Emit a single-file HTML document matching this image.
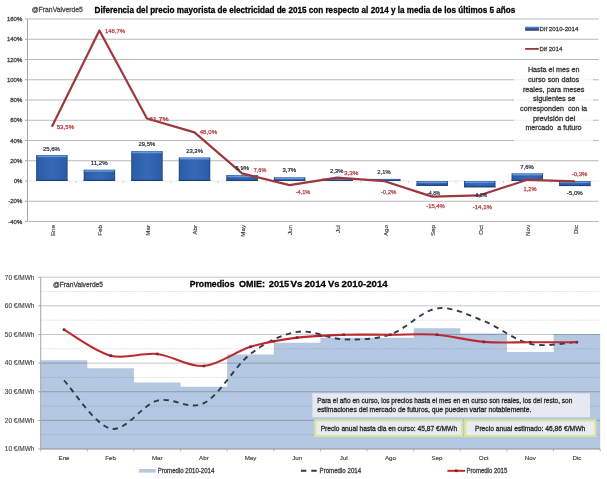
<!DOCTYPE html>
<html><head><meta charset="utf-8"><style>
html,body{margin:0;padding:0;background:#fff;}
svg{display:block;font-family:"Liberation Sans", sans-serif;}
</style></head><body>
<svg width="607" height="479" viewBox="0 0 607 479">
<rect width="607" height="479" fill="#ffffff"/>
<defs>
<linearGradient id="barg" x1="0" y1="0" x2="1" y2="0"><stop offset="0" stop-color="#1f4884"/><stop offset="0.06" stop-color="#2c5ea8"/><stop offset="0.5" stop-color="#3569b6"/><stop offset="0.94" stop-color="#2c5ea8"/><stop offset="1" stop-color="#1f4884"/></linearGradient>
</defs>
<line x1="28.1" y1="221.50" x2="598.6" y2="221.50" stroke="#b9b9b9" stroke-width="1"/>
<line x1="25" y1="221.50" x2="27.5" y2="221.50" stroke="#a6a6a6" stroke-width="1"/>
<text x="22.30" y="223.70" font-size="6.0" fill="#404040" text-anchor="end" stroke="#404040" stroke-width="0.28">-40%</text>
<line x1="28.1" y1="201.25" x2="598.6" y2="201.25" stroke="#b9b9b9" stroke-width="1"/>
<line x1="25" y1="201.25" x2="27.5" y2="201.25" stroke="#a6a6a6" stroke-width="1"/>
<text x="22.30" y="203.45" font-size="6.0" fill="#404040" text-anchor="end" stroke="#404040" stroke-width="0.28">-20%</text>
<line x1="28.1" y1="181.00" x2="598.6" y2="181.00" stroke="#ececec" stroke-width="1"/>
<line x1="25" y1="181.00" x2="27.5" y2="181.00" stroke="#a6a6a6" stroke-width="1"/>
<text x="22.30" y="183.20" font-size="6.0" fill="#404040" text-anchor="end" stroke="#404040" stroke-width="0.28">0%</text>
<line x1="28.1" y1="160.75" x2="598.6" y2="160.75" stroke="#b9b9b9" stroke-width="1"/>
<line x1="25" y1="160.75" x2="27.5" y2="160.75" stroke="#a6a6a6" stroke-width="1"/>
<text x="22.30" y="162.95" font-size="6.0" fill="#404040" text-anchor="end" stroke="#404040" stroke-width="0.28">20%</text>
<line x1="28.1" y1="140.50" x2="598.6" y2="140.50" stroke="#b9b9b9" stroke-width="1"/>
<line x1="25" y1="140.50" x2="27.5" y2="140.50" stroke="#a6a6a6" stroke-width="1"/>
<text x="22.30" y="142.70" font-size="6.0" fill="#404040" text-anchor="end" stroke="#404040" stroke-width="0.28">40%</text>
<line x1="28.1" y1="120.25" x2="598.6" y2="120.25" stroke="#b9b9b9" stroke-width="1"/>
<line x1="25" y1="120.25" x2="27.5" y2="120.25" stroke="#a6a6a6" stroke-width="1"/>
<text x="22.30" y="122.45" font-size="6.0" fill="#404040" text-anchor="end" stroke="#404040" stroke-width="0.28">60%</text>
<line x1="28.1" y1="100.00" x2="598.6" y2="100.00" stroke="#b9b9b9" stroke-width="1"/>
<line x1="25" y1="100.00" x2="27.5" y2="100.00" stroke="#a6a6a6" stroke-width="1"/>
<text x="22.30" y="102.20" font-size="6.0" fill="#404040" text-anchor="end" stroke="#404040" stroke-width="0.28">80%</text>
<line x1="28.1" y1="79.75" x2="598.6" y2="79.75" stroke="#b9b9b9" stroke-width="1"/>
<line x1="25" y1="79.75" x2="27.5" y2="79.75" stroke="#a6a6a6" stroke-width="1"/>
<text x="22.30" y="81.95" font-size="6.0" fill="#404040" text-anchor="end" stroke="#404040" stroke-width="0.28">100%</text>
<line x1="28.1" y1="59.50" x2="598.6" y2="59.50" stroke="#b9b9b9" stroke-width="1"/>
<line x1="25" y1="59.50" x2="27.5" y2="59.50" stroke="#a6a6a6" stroke-width="1"/>
<text x="22.30" y="61.70" font-size="6.0" fill="#404040" text-anchor="end" stroke="#404040" stroke-width="0.28">120%</text>
<line x1="28.1" y1="39.25" x2="598.6" y2="39.25" stroke="#b9b9b9" stroke-width="1"/>
<line x1="25" y1="39.25" x2="27.5" y2="39.25" stroke="#a6a6a6" stroke-width="1"/>
<text x="22.30" y="41.45" font-size="6.0" fill="#404040" text-anchor="end" stroke="#404040" stroke-width="0.28">140%</text>
<line x1="28.1" y1="19.00" x2="598.6" y2="19.00" stroke="#b9b9b9" stroke-width="1"/>
<line x1="25" y1="19.00" x2="27.5" y2="19.00" stroke="#a6a6a6" stroke-width="1"/>
<text x="22.30" y="21.20" font-size="6.0" fill="#404040" text-anchor="end" stroke="#404040" stroke-width="0.28">160%</text>
<line x1="27.5" y1="19.00" x2="27.5" y2="221.50" stroke="#a6a6a6" stroke-width="1"/>
<line x1="75.64" y1="181.0" x2="75.64" y2="183.0" stroke="#c8c8c8" stroke-width="0.8"/>
<line x1="123.18" y1="181.0" x2="123.18" y2="183.0" stroke="#c8c8c8" stroke-width="0.8"/>
<line x1="170.72" y1="181.0" x2="170.72" y2="183.0" stroke="#c8c8c8" stroke-width="0.8"/>
<line x1="218.27" y1="181.0" x2="218.27" y2="183.0" stroke="#c8c8c8" stroke-width="0.8"/>
<line x1="265.81" y1="181.0" x2="265.81" y2="183.0" stroke="#c8c8c8" stroke-width="0.8"/>
<line x1="313.35" y1="181.0" x2="313.35" y2="183.0" stroke="#c8c8c8" stroke-width="0.8"/>
<line x1="360.89" y1="181.0" x2="360.89" y2="183.0" stroke="#c8c8c8" stroke-width="0.8"/>
<line x1="408.43" y1="181.0" x2="408.43" y2="183.0" stroke="#c8c8c8" stroke-width="0.8"/>
<line x1="455.98" y1="181.0" x2="455.98" y2="183.0" stroke="#c8c8c8" stroke-width="0.8"/>
<line x1="503.52" y1="181.0" x2="503.52" y2="183.0" stroke="#c8c8c8" stroke-width="0.8"/>
<line x1="551.06" y1="181.0" x2="551.06" y2="183.0" stroke="#c8c8c8" stroke-width="0.8"/>
<rect x="514" y="62" width="79" height="81" fill="#ffffff" fill-opacity="0.8"/>
<rect x="36.12" y="155.08" width="31.5" height="25.92" fill="url(#barg)"/>
<rect x="37.12" y="155.68" width="29.5" height="1.5" fill="#6c9ddf" fill-opacity="0.9"/>
<rect x="36.12" y="179.70" width="31.5" height="1.3" fill="#1f4580"/>
<rect x="83.66" y="169.66" width="31.5" height="11.34" fill="url(#barg)"/>
<rect x="84.66" y="170.26" width="29.5" height="1.5" fill="#6c9ddf" fill-opacity="0.9"/>
<rect x="83.66" y="179.70" width="31.5" height="1.3" fill="#1f4580"/>
<rect x="131.20" y="151.13" width="31.5" height="29.87" fill="url(#barg)"/>
<rect x="132.20" y="151.73" width="29.5" height="1.5" fill="#6c9ddf" fill-opacity="0.9"/>
<rect x="131.20" y="179.70" width="31.5" height="1.3" fill="#1f4580"/>
<rect x="178.75" y="157.41" width="31.5" height="23.59" fill="url(#barg)"/>
<rect x="179.75" y="158.01" width="29.5" height="1.5" fill="#6c9ddf" fill-opacity="0.9"/>
<rect x="178.75" y="179.70" width="31.5" height="1.3" fill="#1f4580"/>
<rect x="226.29" y="175.03" width="31.5" height="5.97" fill="url(#barg)"/>
<rect x="227.29" y="175.63" width="29.5" height="1.5" fill="#6c9ddf" fill-opacity="0.9"/>
<rect x="226.29" y="179.70" width="31.5" height="1.3" fill="#1f4580"/>
<rect x="273.83" y="177.25" width="31.5" height="3.75" fill="url(#barg)"/>
<rect x="274.83" y="177.85" width="29.5" height="1.5" fill="#6c9ddf" fill-opacity="0.9"/>
<rect x="273.83" y="179.70" width="31.5" height="1.3" fill="#1f4580"/>
<rect x="321.37" y="178.67" width="31.5" height="2.33" fill="url(#barg)"/>
<rect x="322.37" y="179.27" width="29.5" height="1.5" fill="#6c9ddf" fill-opacity="0.9"/>
<rect x="321.37" y="179.70" width="31.5" height="1.3" fill="#1f4580"/>
<rect x="368.91" y="178.87" width="31.5" height="2.13" fill="url(#barg)"/>
<rect x="369.91" y="179.47" width="29.5" height="1.5" fill="#6c9ddf" fill-opacity="0.9"/>
<rect x="368.91" y="179.70" width="31.5" height="1.3" fill="#1f4580"/>
<rect x="416.45" y="181.00" width="31.5" height="4.86" fill="url(#barg)"/>
<rect x="417.45" y="181.60" width="29.5" height="1.5" fill="#6c9ddf" fill-opacity="0.9"/>
<rect x="416.45" y="184.56" width="31.5" height="1.3" fill="#1f4580"/>
<rect x="464.00" y="181.00" width="31.5" height="6.28" fill="url(#barg)"/>
<rect x="465.00" y="181.60" width="29.5" height="1.5" fill="#6c9ddf" fill-opacity="0.9"/>
<rect x="464.00" y="185.98" width="31.5" height="1.3" fill="#1f4580"/>
<rect x="511.54" y="173.31" width="31.5" height="7.69" fill="url(#barg)"/>
<rect x="512.54" y="173.91" width="29.5" height="1.5" fill="#6c9ddf" fill-opacity="0.9"/>
<rect x="511.54" y="179.70" width="31.5" height="1.3" fill="#1f4580"/>
<rect x="559.08" y="181.00" width="31.5" height="5.06" fill="url(#barg)"/>
<rect x="560.08" y="181.60" width="29.5" height="1.5" fill="#6c9ddf" fill-opacity="0.9"/>
<rect x="559.08" y="184.76" width="31.5" height="1.3" fill="#1f4580"/>
<polyline points="51.87,126.83 99.41,30.44 146.95,118.53 194.50,132.40 242.04,173.31 289.58,185.15 337.12,177.66 384.66,181.20 432.20,196.59 479.75,195.28 527.29,179.78 574.83,181.30" fill="none" stroke="#9c373c" stroke-width="2.2" stroke-linejoin="round"/>
<text x="42.90" y="150.55" font-size="5.9" fill="#1b2638" text-anchor="start" textLength="17.0" lengthAdjust="spacingAndGlyphs" stroke="#1b2638" stroke-width="0.2">25,6%</text>
<text x="90.70" y="165.25" font-size="5.9" fill="#1b2638" text-anchor="start" textLength="16.9" lengthAdjust="spacingAndGlyphs" stroke="#1b2638" stroke-width="0.2">11,2%</text>
<text x="138.60" y="146.45" font-size="5.9" fill="#1b2638" text-anchor="start" textLength="16.6" lengthAdjust="spacingAndGlyphs" stroke="#1b2638" stroke-width="0.2">29,5%</text>
<text x="186.20" y="152.85" font-size="5.9" fill="#1b2638" text-anchor="start" textLength="16.7" lengthAdjust="spacingAndGlyphs" stroke="#1b2638" stroke-width="0.2">23,3%</text>
<text x="235.40" y="169.65" font-size="5.9" fill="#1b2638" text-anchor="start" textLength="13.7" lengthAdjust="spacingAndGlyphs" stroke="#1b2638" stroke-width="0.2">5,9%</text>
<text x="282.40" y="172.45" font-size="5.9" fill="#1b2638" text-anchor="start" textLength="13.9" lengthAdjust="spacingAndGlyphs" stroke="#1b2638" stroke-width="0.2">3,7%</text>
<text x="330.10" y="173.05" font-size="5.9" fill="#1b2638" text-anchor="start" textLength="13.2" lengthAdjust="spacingAndGlyphs" stroke="#1b2638" stroke-width="0.2">2,3%</text>
<text x="377.30" y="174.05" font-size="5.9" fill="#1b2638" text-anchor="start" textLength="13.3" lengthAdjust="spacingAndGlyphs" stroke="#1b2638" stroke-width="0.2">2,1%</text>
<text x="427.50" y="195.05" font-size="5.9" fill="#1b2638" text-anchor="start" textLength="12.6" lengthAdjust="spacingAndGlyphs" stroke="#1b2638" stroke-width="0.2">-4,8%</text>
<text x="474.10" y="196.95" font-size="5.9" fill="#1b2638" text-anchor="start" textLength="13.0" lengthAdjust="spacingAndGlyphs" stroke="#1b2638" stroke-width="0.2">-6,2%</text>
<text x="520.30" y="168.65" font-size="5.9" fill="#1b2638" text-anchor="start" textLength="13.5" lengthAdjust="spacingAndGlyphs" stroke="#1b2638" stroke-width="0.2">7,6%</text>
<text x="566.80" y="195.05" font-size="5.9" fill="#1b2638" text-anchor="start" textLength="16.0" lengthAdjust="spacingAndGlyphs" stroke="#1b2638" stroke-width="0.2">-5,0%</text>
<text x="56.70" y="129.05" font-size="5.9" fill="#b53f42" text-anchor="start" textLength="17.4" lengthAdjust="spacingAndGlyphs" stroke="#b53f42" stroke-width="0.25">53,5%</text>
<text x="105.10" y="33.15" font-size="5.9" fill="#b53f42" text-anchor="start" textLength="19.9" lengthAdjust="spacingAndGlyphs" stroke="#b53f42" stroke-width="0.25">148,7%</text>
<text x="149.30" y="120.85" font-size="5.9" fill="#b53f42" text-anchor="start" textLength="19.4" lengthAdjust="spacingAndGlyphs" stroke="#b53f42" stroke-width="0.25">61,7%</text>
<text x="199.70" y="134.05" font-size="5.9" fill="#b53f42" text-anchor="start" textLength="17.4" lengthAdjust="spacingAndGlyphs" stroke="#b53f42" stroke-width="0.25">48,0%</text>
<text x="253.80" y="171.65" font-size="5.9" fill="#b53f42" text-anchor="start" textLength="12.5" lengthAdjust="spacingAndGlyphs" stroke="#b53f42" stroke-width="0.25">7,6%</text>
<text x="295.70" y="194.25" font-size="5.9" fill="#b53f42" text-anchor="start" textLength="14.5" lengthAdjust="spacingAndGlyphs" stroke="#b53f42" stroke-width="0.25">-4,1%</text>
<text x="343.90" y="174.85" font-size="5.9" fill="#b53f42" text-anchor="start" textLength="14.4" lengthAdjust="spacingAndGlyphs" stroke="#b53f42" stroke-width="0.25">3,3%</text>
<text x="380.70" y="194.35" font-size="5.9" fill="#b53f42" text-anchor="start" textLength="15.6" lengthAdjust="spacingAndGlyphs" stroke="#b53f42" stroke-width="0.25">-0,2%</text>
<text x="426.20" y="208.15" font-size="5.9" fill="#b53f42" text-anchor="start" textLength="18.5" lengthAdjust="spacingAndGlyphs" stroke="#b53f42" stroke-width="0.25">-15,4%</text>
<text x="472.70" y="208.75" font-size="5.9" fill="#b53f42" text-anchor="start" textLength="19.3" lengthAdjust="spacingAndGlyphs" stroke="#b53f42" stroke-width="0.25">-14,1%</text>
<text x="523.60" y="191.45" font-size="5.9" fill="#b53f42" text-anchor="start" textLength="13.0" lengthAdjust="spacingAndGlyphs" stroke="#b53f42" stroke-width="0.25">1,2%</text>
<text x="571.70" y="176.35" font-size="5.9" fill="#b53f42" text-anchor="start" textLength="15.8" lengthAdjust="spacingAndGlyphs" stroke="#b53f42" stroke-width="0.25">-0,3%</text>
<text transform="translate(54.77,225.0) rotate(-90)" font-size="6.2" fill="#404040" stroke="#404040" stroke-width="0.15" text-anchor="end">Ene</text>
<text transform="translate(102.31,225.0) rotate(-90)" font-size="6.2" fill="#404040" stroke="#404040" stroke-width="0.15" text-anchor="end">Feb</text>
<text transform="translate(149.85,225.0) rotate(-90)" font-size="6.2" fill="#404040" stroke="#404040" stroke-width="0.15" text-anchor="end">Mar</text>
<text transform="translate(197.40,225.0) rotate(-90)" font-size="6.2" fill="#404040" stroke="#404040" stroke-width="0.15" text-anchor="end">Abr</text>
<text transform="translate(244.94,225.0) rotate(-90)" font-size="6.2" fill="#404040" stroke="#404040" stroke-width="0.15" text-anchor="end">May</text>
<text transform="translate(292.48,225.0) rotate(-90)" font-size="6.2" fill="#404040" stroke="#404040" stroke-width="0.15" text-anchor="end">Jun</text>
<text transform="translate(340.02,225.0) rotate(-90)" font-size="6.2" fill="#404040" stroke="#404040" stroke-width="0.15" text-anchor="end">Jul</text>
<text transform="translate(387.56,225.0) rotate(-90)" font-size="6.2" fill="#404040" stroke="#404040" stroke-width="0.15" text-anchor="end">Ago</text>
<text transform="translate(435.10,225.0) rotate(-90)" font-size="6.2" fill="#404040" stroke="#404040" stroke-width="0.15" text-anchor="end">Sep</text>
<text transform="translate(482.65,225.0) rotate(-90)" font-size="6.2" fill="#404040" stroke="#404040" stroke-width="0.15" text-anchor="end">Oct</text>
<text transform="translate(530.19,225.0) rotate(-90)" font-size="6.2" fill="#404040" stroke="#404040" stroke-width="0.15" text-anchor="end">Nov</text>
<text transform="translate(577.73,225.0) rotate(-90)" font-size="6.2" fill="#404040" stroke="#404040" stroke-width="0.15" text-anchor="end">Dic</text>
<text x="94.60" y="12.75" font-size="8.7" fill="#000000" text-anchor="start" font-weight="bold" textLength="420.6" lengthAdjust="spacingAndGlyphs" stroke="#000000" stroke-width="0.28">Diferencia del precio mayorista de electricidad de 2015 con respecto al 2014 y la media de los últimos 5 años</text>
<text x="31.70" y="12.20" font-size="7" fill="#4a4a4a" text-anchor="start" textLength="51.2" lengthAdjust="spacingAndGlyphs" stroke="#4a4a4a" stroke-width="0.28">@FranValverde5</text>
<linearGradient id="lgb" x1="0" y1="0" x2="0" y2="1"><stop offset="0" stop-color="#6b9ad8"/><stop offset="0.4" stop-color="#3d68aa"/><stop offset="1" stop-color="#1c2f55"/></linearGradient>
<rect x="525.1" y="26.6" width="14" height="4.1" fill="url(#lgb)"/>
<text x="539.60" y="30.70" font-size="6.0" fill="#404040" text-anchor="start" textLength="38.8" lengthAdjust="spacingAndGlyphs" stroke="#404040" stroke-width="0.28">Dif 2010-2014</text>
<line x1="525.1" y1="48.9" x2="538.8" y2="48.9" stroke="#a0373b" stroke-width="1.8"/>
<text x="539.60" y="51.00" font-size="6.0" fill="#404040" text-anchor="start" textLength="22.7" lengthAdjust="spacingAndGlyphs" stroke="#404040" stroke-width="0.28">Dif 2014</text>
<text x="527.90" y="72.30" font-size="7.1" fill="#383838" text-anchor="start" textLength="51.7" lengthAdjust="spacingAndGlyphs" stroke="#383838" stroke-width="0.3">Hasta el mes en</text>
<text x="527.90" y="81.98" font-size="7.1" fill="#383838" text-anchor="start" textLength="51.3" lengthAdjust="spacingAndGlyphs" stroke="#383838" stroke-width="0.3">curso son datos</text>
<text x="522.90" y="91.66" font-size="7.1" fill="#383838" text-anchor="start" textLength="61.6" lengthAdjust="spacingAndGlyphs" stroke="#383838" stroke-width="0.3">reales, para meses</text>
<text x="532.90" y="101.34" font-size="7.1" fill="#383838" text-anchor="start" textLength="42.5" lengthAdjust="spacingAndGlyphs" stroke="#383838" stroke-width="0.3">siguientes se</text>
<text x="520.10" y="111.02" font-size="7.1" fill="#383838" text-anchor="start" textLength="67.0" lengthAdjust="spacingAndGlyphs" stroke="#383838" stroke-width="0.3">corresponden  con la</text>
<text x="532.90" y="120.70" font-size="7.1" fill="#383838" text-anchor="start" textLength="42.5" lengthAdjust="spacingAndGlyphs" stroke="#383838" stroke-width="0.3">previsión del</text>
<text x="525.40" y="130.38" font-size="7.1" fill="#383838" text-anchor="start" textLength="56.2" lengthAdjust="spacingAndGlyphs" stroke="#383838" stroke-width="0.3">mercado  a futuro</text>
<path d="M40.70,449.00 L40.70,360.25 L87.33,360.25 L87.33,368.26 L133.95,368.26 L133.95,382.58 L180.57,382.58 L180.57,386.87 L227.20,386.87 L227.20,354.52 L273.82,354.52 L273.82,342.78 L320.45,342.78 L320.45,337.63 L367.07,337.63 L367.07,337.63 L413.70,337.63 L413.70,328.18 L460.32,328.18 L460.32,333.62 L506.95,333.62 L506.95,351.94 L553.58,351.94 L553.58,333.91 L600.20,333.91 L600.20,449.00 Z" fill="#b4c8e2"/>
<line x1="40.7" y1="449.00" x2="600.2" y2="449.00" stroke="#c6c6c6" stroke-width="1" style="mix-blend-mode:multiply"/>
<line x1="40.7" y1="420.37" x2="600.2" y2="420.37" stroke="#c6c6c6" stroke-width="1" style="mix-blend-mode:multiply"/>
<line x1="40.7" y1="391.74" x2="600.2" y2="391.74" stroke="#c6c6c6" stroke-width="1" style="mix-blend-mode:multiply"/>
<line x1="40.7" y1="363.11" x2="600.2" y2="363.11" stroke="#c6c6c6" stroke-width="1" style="mix-blend-mode:multiply"/>
<line x1="40.7" y1="334.48" x2="600.2" y2="334.48" stroke="#c6c6c6" stroke-width="1" style="mix-blend-mode:multiply"/>
<line x1="40.7" y1="305.85" x2="600.2" y2="305.85" stroke="#c6c6c6" stroke-width="1" style="mix-blend-mode:multiply"/>
<line x1="40.7" y1="277.22" x2="600.2" y2="277.22" stroke="#c6c6c6" stroke-width="1" style="mix-blend-mode:multiply"/>
<line x1="40.7" y1="434.69" x2="600.2" y2="434.69" stroke="#dadada" stroke-width="1" stroke-dasharray="1.2,1.2" style="mix-blend-mode:multiply"/>
<line x1="40.7" y1="406.06" x2="600.2" y2="406.06" stroke="#dadada" stroke-width="1" stroke-dasharray="1.2,1.2" style="mix-blend-mode:multiply"/>
<line x1="40.7" y1="377.43" x2="600.2" y2="377.43" stroke="#dadada" stroke-width="1" stroke-dasharray="1.2,1.2" style="mix-blend-mode:multiply"/>
<line x1="40.7" y1="348.80" x2="600.2" y2="348.80" stroke="#dadada" stroke-width="1" stroke-dasharray="1.2,1.2" style="mix-blend-mode:multiply"/>
<line x1="40.7" y1="320.16" x2="600.2" y2="320.16" stroke="#dadada" stroke-width="1" stroke-dasharray="1.2,1.2" style="mix-blend-mode:multiply"/>
<line x1="40.7" y1="291.53" x2="600.2" y2="291.53" stroke="#dadada" stroke-width="1" stroke-dasharray="1.2,1.2" style="mix-blend-mode:multiply"/>
<line x1="38.2" y1="449.00" x2="40.7" y2="449.00" stroke="#a6a6a6" stroke-width="1"/>
<line x1="38.2" y1="420.37" x2="40.7" y2="420.37" stroke="#a6a6a6" stroke-width="1"/>
<line x1="38.2" y1="391.74" x2="40.7" y2="391.74" stroke="#a6a6a6" stroke-width="1"/>
<line x1="38.2" y1="363.11" x2="40.7" y2="363.11" stroke="#a6a6a6" stroke-width="1"/>
<line x1="38.2" y1="334.48" x2="40.7" y2="334.48" stroke="#a6a6a6" stroke-width="1"/>
<line x1="38.2" y1="305.85" x2="40.7" y2="305.85" stroke="#a6a6a6" stroke-width="1"/>
<line x1="38.2" y1="277.22" x2="40.7" y2="277.22" stroke="#a6a6a6" stroke-width="1"/>
<text x="34.40" y="451.30" font-size="6.5" fill="#404040" text-anchor="end" stroke="#404040" stroke-width="0.12">10 €/MWh</text>
<text x="34.40" y="422.67" font-size="6.5" fill="#404040" text-anchor="end" stroke="#404040" stroke-width="0.12">20 €/MWh</text>
<text x="34.40" y="394.04" font-size="6.5" fill="#404040" text-anchor="end" stroke="#404040" stroke-width="0.12">30 €/MWh</text>
<text x="34.40" y="365.41" font-size="6.5" fill="#404040" text-anchor="end" stroke="#404040" stroke-width="0.12">40 €/MWh</text>
<text x="34.40" y="336.78" font-size="6.5" fill="#404040" text-anchor="end" stroke="#404040" stroke-width="0.12">50 €/MWh</text>
<text x="34.40" y="308.15" font-size="6.5" fill="#404040" text-anchor="end" stroke="#404040" stroke-width="0.12">60 €/MWh</text>
<text x="34.40" y="279.52" font-size="6.5" fill="#404040" text-anchor="end" stroke="#404040" stroke-width="0.12">70 €/MWh</text>
<line x1="40.7" y1="277.22" x2="40.7" y2="449.00" stroke="#a6a6a6" stroke-width="1"/>
<line x1="40.7" y1="449.00" x2="600.2" y2="449.00" stroke="#a6a6a6" stroke-width="1"/>
<line x1="40.70" y1="449.00" x2="40.70" y2="451.50" stroke="#a6a6a6" stroke-width="0.8"/>
<line x1="87.33" y1="449.00" x2="87.33" y2="451.50" stroke="#a6a6a6" stroke-width="0.8"/>
<line x1="133.95" y1="449.00" x2="133.95" y2="451.50" stroke="#a6a6a6" stroke-width="0.8"/>
<line x1="180.57" y1="449.00" x2="180.57" y2="451.50" stroke="#a6a6a6" stroke-width="0.8"/>
<line x1="227.20" y1="449.00" x2="227.20" y2="451.50" stroke="#a6a6a6" stroke-width="0.8"/>
<line x1="273.82" y1="449.00" x2="273.82" y2="451.50" stroke="#a6a6a6" stroke-width="0.8"/>
<line x1="320.45" y1="449.00" x2="320.45" y2="451.50" stroke="#a6a6a6" stroke-width="0.8"/>
<line x1="367.07" y1="449.00" x2="367.07" y2="451.50" stroke="#a6a6a6" stroke-width="0.8"/>
<line x1="413.70" y1="449.00" x2="413.70" y2="451.50" stroke="#a6a6a6" stroke-width="0.8"/>
<line x1="460.32" y1="449.00" x2="460.32" y2="451.50" stroke="#a6a6a6" stroke-width="0.8"/>
<line x1="506.95" y1="449.00" x2="506.95" y2="451.50" stroke="#a6a6a6" stroke-width="0.8"/>
<line x1="553.58" y1="449.00" x2="553.58" y2="451.50" stroke="#a6a6a6" stroke-width="0.8"/>
<line x1="600.20" y1="449.00" x2="600.20" y2="451.50" stroke="#a6a6a6" stroke-width="0.8"/>
<text x="64.01" y="460.20" font-size="6.2" fill="#404040" text-anchor="middle" stroke="#404040" stroke-width="0.15">Ene</text>
<text x="110.64" y="460.20" font-size="6.2" fill="#404040" text-anchor="middle" stroke="#404040" stroke-width="0.15">Feb</text>
<text x="157.26" y="460.20" font-size="6.2" fill="#404040" text-anchor="middle" stroke="#404040" stroke-width="0.15">Mar</text>
<text x="203.89" y="460.20" font-size="6.2" fill="#404040" text-anchor="middle" stroke="#404040" stroke-width="0.15">Abr</text>
<text x="250.51" y="460.20" font-size="6.2" fill="#404040" text-anchor="middle" stroke="#404040" stroke-width="0.15">May</text>
<text x="297.14" y="460.20" font-size="6.2" fill="#404040" text-anchor="middle" stroke="#404040" stroke-width="0.15">Jun</text>
<text x="343.76" y="460.20" font-size="6.2" fill="#404040" text-anchor="middle" stroke="#404040" stroke-width="0.15">Jul</text>
<text x="390.39" y="460.20" font-size="6.2" fill="#404040" text-anchor="middle" stroke="#404040" stroke-width="0.15">Ago</text>
<text x="437.01" y="460.20" font-size="6.2" fill="#404040" text-anchor="middle" stroke="#404040" stroke-width="0.15">Sep</text>
<text x="483.64" y="460.20" font-size="6.2" fill="#404040" text-anchor="middle" stroke="#404040" stroke-width="0.15">Oct</text>
<text x="530.26" y="460.20" font-size="6.2" fill="#404040" text-anchor="middle" stroke="#404040" stroke-width="0.15">Nov</text>
<text x="576.89" y="460.20" font-size="6.2" fill="#404040" text-anchor="middle" stroke="#404040" stroke-width="0.15">Dic</text>
<path d="M64.01,380.29 C71.78,388.35 95.10,425.28 110.64,428.67 C126.18,432.06 141.72,404.86 157.26,400.62 C172.80,396.37 188.35,410.97 203.89,403.19 C219.43,395.41 234.97,365.83 250.51,353.95 C266.05,342.07 281.60,334.34 297.14,331.90 C312.68,329.47 328.22,338.92 343.76,339.35 C359.30,339.78 374.85,339.63 390.39,334.48 C405.93,329.33 421.47,310.67 437.01,308.43 C452.55,306.18 468.10,315.11 483.64,321.02 C499.18,326.94 514.72,340.44 530.26,343.93 C545.80,347.41 569.12,342.26 576.89,341.92" fill="none" stroke="#2d3a50" stroke-width="1.9" stroke-dasharray="5.3,4.7"/>
<path d="M64.01,329.61 C71.78,333.96 95.10,351.61 110.64,355.67 C126.18,359.72 141.72,352.23 157.26,353.95 C172.80,355.67 188.35,367.17 203.89,365.97 C219.43,364.78 234.97,351.51 250.51,346.79 C266.05,342.07 281.60,339.63 297.14,337.63 C312.68,335.63 328.22,335.24 343.76,334.77 C359.30,334.29 374.85,334.77 390.39,334.77 C405.93,334.77 421.47,333.57 437.01,334.77 C452.55,335.96 468.10,340.68 483.64,341.92 C499.18,343.16 514.72,342.16 530.26,342.21 C545.80,342.26 569.12,342.21 576.89,342.21" fill="none" stroke="#bb2a30" stroke-width="2.1"/>
<rect x="272.62" y="339.99" width="2.4" height="2.4" fill="#7a2a2a"/>
<rect x="319.25" y="334.43" width="2.4" height="2.4" fill="#7a2a2a"/>
<rect x="62.71" y="328.31" width="2.6" height="2.6" fill="#7a2a2a"/>
<rect x="109.34" y="354.37" width="2.6" height="2.6" fill="#7a2a2a"/>
<rect x="155.96" y="352.65" width="2.6" height="2.6" fill="#7a2a2a"/>
<rect x="202.59" y="364.67" width="2.6" height="2.6" fill="#7a2a2a"/>
<rect x="249.21" y="345.49" width="2.6" height="2.6" fill="#7a2a2a"/>
<rect x="295.84" y="336.33" width="2.6" height="2.6" fill="#7a2a2a"/>
<rect x="342.46" y="333.47" width="2.6" height="2.6" fill="#7a2a2a"/>
<rect x="389.09" y="333.47" width="2.6" height="2.6" fill="#7a2a2a"/>
<rect x="435.71" y="333.47" width="2.6" height="2.6" fill="#7a2a2a"/>
<rect x="482.34" y="340.62" width="2.6" height="2.6" fill="#7a2a2a"/>
<rect x="528.96" y="340.91" width="2.6" height="2.6" fill="#7a2a2a"/>
<rect x="575.59" y="340.91" width="2.6" height="2.6" fill="#7a2a2a"/>
<text x="189.70" y="286.50" font-size="9.3" fill="#000000" text-anchor="start" font-weight="bold" textLength="44.8" lengthAdjust="spacingAndGlyphs" stroke="#000000" stroke-width="0.28">Promedios</text>
<text x="238.90" y="286.50" font-size="9.3" fill="#000000" text-anchor="start" font-weight="bold" textLength="26.0" lengthAdjust="spacingAndGlyphs" stroke="#000000" stroke-width="0.28">OMIE:</text>
<text x="268.80" y="286.50" font-size="9.3" fill="#000000" text-anchor="start" font-weight="bold" textLength="20.4" lengthAdjust="spacingAndGlyphs" stroke="#000000" stroke-width="0.28">2015</text>
<text x="290.50" y="286.50" font-size="9.3" fill="#000000" text-anchor="start" font-weight="bold" textLength="11.9" lengthAdjust="spacingAndGlyphs" stroke="#000000" stroke-width="0.28">Vs</text>
<text x="304.50" y="286.50" font-size="9.3" fill="#000000" text-anchor="start" font-weight="bold" textLength="21.5" lengthAdjust="spacingAndGlyphs" stroke="#000000" stroke-width="0.28">2014</text>
<text x="328.10" y="286.50" font-size="9.3" fill="#000000" text-anchor="start" font-weight="bold" textLength="11.4" lengthAdjust="spacingAndGlyphs" stroke="#000000" stroke-width="0.28">Vs</text>
<text x="341.60" y="286.50" font-size="9.3" fill="#000000" text-anchor="start" font-weight="bold" textLength="46.0" lengthAdjust="spacingAndGlyphs" stroke="#000000" stroke-width="0.28">2010-2014</text>
<text x="53.00" y="286.70" font-size="7" fill="#404040" text-anchor="start" textLength="50" lengthAdjust="spacingAndGlyphs" stroke="#404040" stroke-width="0.28">@FranValverde5</text>
<rect x="312.4" y="393.3" width="277.6" height="24" fill="#e6e9f0"/>
<text x="317.20" y="402.90" font-size="7" fill="#262626" text-anchor="start" textLength="255.2" lengthAdjust="spacingAndGlyphs" stroke="#262626" stroke-width="0.28">Para el año en curso, los precios hasta el mes en en curso son reales, los del resto, son</text>
<text x="317.20" y="411.80" font-size="7" fill="#262626" text-anchor="start" textLength="214.2" lengthAdjust="spacingAndGlyphs" stroke="#262626" stroke-width="0.28">estimaciones del mercado de futuros, que pueden variar notablemente.</text>
<rect x="315.2" y="420.4" width="146.8" height="15.6" fill="#e9ecf2" stroke="#d8e598" stroke-width="2.1"/>
<text x="320.70" y="431.00" font-size="7" fill="#262626" text-anchor="start" textLength="136.4" lengthAdjust="spacingAndGlyphs" stroke="#262626" stroke-width="0.28">Precio anual hasta dia en curso: 45,87 €/MWh</text>
<rect x="465.1" y="420.4" width="130.4" height="15.6" fill="#e9ecf2" stroke="#d8e598" stroke-width="2.1"/>
<text x="474.90" y="431.00" font-size="7" fill="#262626" text-anchor="start" textLength="110.4" lengthAdjust="spacingAndGlyphs" stroke="#262626" stroke-width="0.28">Precio anual estimado: 46,86 €/MWh</text>
<rect x="138.9" y="469" width="16.8" height="3.6" fill="#b4c8e2"/>
<text x="157.70" y="473.30" font-size="6.3" fill="#404040" text-anchor="start" textLength="56.6" lengthAdjust="spacingAndGlyphs" stroke="#404040" stroke-width="0.28">Promedio 2010-2014</text>
<line x1="300.9" y1="470.8" x2="316.9" y2="470.8" stroke="#2d3a50" stroke-width="2" stroke-dasharray="5.4,5"/>
<text x="319.60" y="473.30" font-size="6.3" fill="#404040" text-anchor="start" textLength="41.5" lengthAdjust="spacingAndGlyphs" stroke="#404040" stroke-width="0.28">Promedio 2014</text>
<line x1="447.4" y1="470.8" x2="465.2" y2="470.8" stroke="#c0282d" stroke-width="2"/>
<rect x="455" y="469.5" width="2.6" height="2.6" fill="#7a2a2a"/>
<text x="466.60" y="473.30" font-size="6.3" fill="#404040" text-anchor="start" textLength="40.7" lengthAdjust="spacingAndGlyphs" stroke="#404040" stroke-width="0.28">Promedio 2015</text>
</svg>
</body></html>
